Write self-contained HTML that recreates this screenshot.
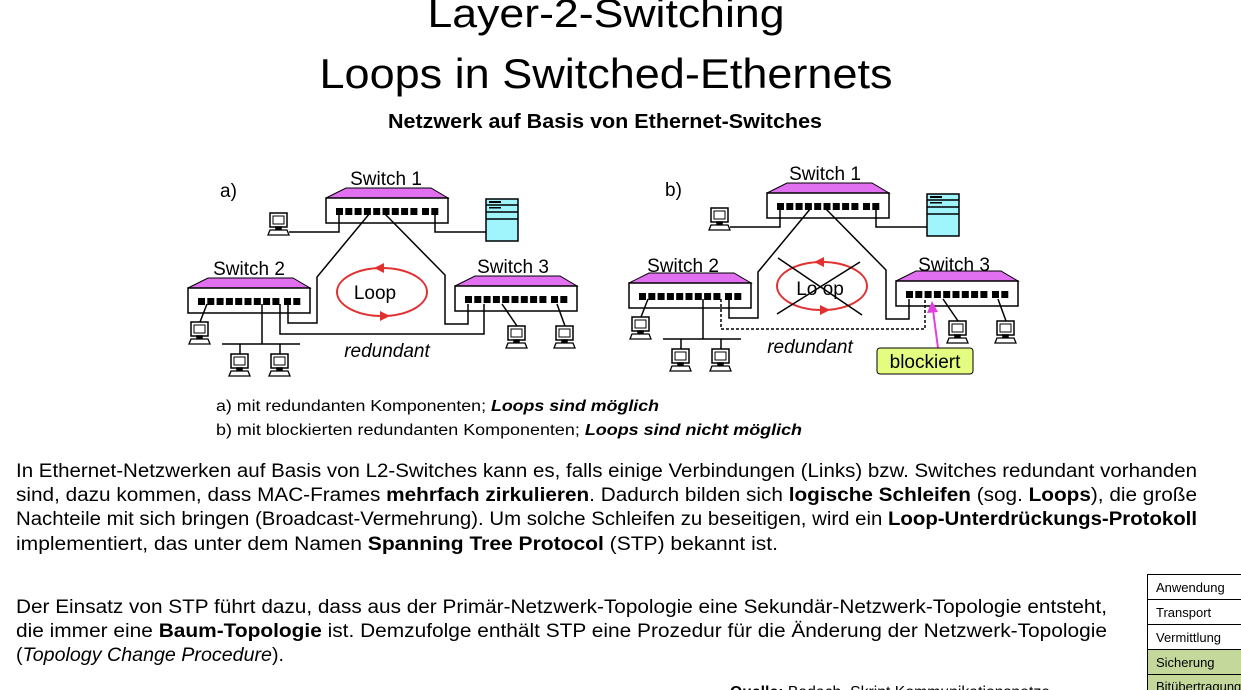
<!DOCTYPE html>
<html><head><meta charset="utf-8"><style>
html,body{margin:0;padding:0;background:#fff;}
svg{display:block;font-family:"Liberation Sans",sans-serif;}
</style></head><body>
<svg width="1241" height="690" viewBox="0 0 1241 690" xmlns="http://www.w3.org/2000/svg">
<defs>
  <g id="pc">
    <rect x="0" y="0" width="17" height="14" fill="#fff" stroke="#000" stroke-width="1.5"/>
    <rect x="3" y="3" width="11" height="8" fill="#fff" stroke="#000" stroke-width="1"/>
    <rect x="6" y="14" width="5" height="3" fill="#000"/>
    <polygon points="-2,22 19,22 17,17 0,17" fill="#fff" stroke="#000" stroke-width="1.3"/>
  </g>
  <g id="ports" fill="#000" stroke="none">
    <rect x="0" y="0" width="7" height="7"/><rect x="9.3" y="0" width="7" height="7"/><rect x="18.6" y="0" width="7" height="7"/><rect x="27.9" y="0" width="7" height="7"/><rect x="37.2" y="0" width="7" height="7"/><rect x="46.5" y="0" width="7" height="7"/><rect x="55.8" y="0" width="7" height="7"/><rect x="65.1" y="0" width="7" height="7"/><rect x="74.4" y="0" width="7" height="7"/><rect x="86" y="0" width="7" height="7"/><rect x="95.3" y="0" width="7" height="7"/>
  </g>
  <g id="sw">
    <polygon points="0,10 122,10 105,0 20,0" fill="#e070f0" stroke="#000" stroke-width="1"/>
    <rect x="0" y="10" width="122" height="25" fill="#fff" stroke="#000" stroke-width="1.5"/>
    <use href="#ports" x="10" y="20"/>
  </g>
  <g id="srv">
    <rect x="0" y="0" width="32" height="42" fill="#a0f4fc" stroke="#000" stroke-width="1.5"/>
    <line x1="0" y1="6" x2="32" y2="6" stroke="#000"/>
    <line x1="0" y1="13" x2="32" y2="13" stroke="#000"/>
    <line x1="0" y1="20" x2="32" y2="20" stroke="#000"/>
    <rect x="3" y="2" width="12" height="2" fill="#000" stroke="none"/><rect x="3" y="8" width="12" height="1.5" fill="#000" stroke="none"/>
  </g>
  <g id="net" fill="none" stroke="#000" stroke-width="1.5">
    <use href="#sw" x="326" y="188"/>
    <use href="#sw" x="188" y="278"/>
    <use href="#sw" x="455" y="276"/>
    <use href="#srv" x="486" y="199"/>
    <use href="#pc" x="270" y="213"/>
    <use href="#pc" x="191" y="322"/>
    <use href="#pc" x="231" y="354"/>
    <use href="#pc" x="271" y="354"/>
    <use href="#pc" x="508" y="326"/>
    <use href="#pc" x="556" y="326"/>
    <polyline points="339,213 339,232 289,232"/>
    <polyline points="435,213 435,232 486,232"/>
    <polyline points="370,213 317,277 317,323 288,323 288,304"/>
    <polyline points="384,213 445,275 445,324 468,324 468,304"/>
    <polyline points="207,304 200,322"/>
    <polyline points="262,304 262,344"/>
    <line x1="222" y1="344" x2="300" y2="344"/>
    <line x1="240" y1="344" x2="240" y2="354"/>
    <line x1="280" y1="344" x2="280" y2="354"/>
    <polyline points="502,304 517,326"/>
    <polyline points="557,304 565,326"/>
  </g>
</defs>

<text x="606" y="27" font-size="40" text-anchor="middle" textLength="357" lengthAdjust="spacingAndGlyphs">Layer-2-Switching</text>
<text x="606" y="88" font-size="42" text-anchor="middle" textLength="573" lengthAdjust="spacingAndGlyphs">Loops in Switched-Ethernets</text>
<text x="605" y="128" font-size="20" font-weight="bold" text-anchor="middle" textLength="434" lengthAdjust="spacingAndGlyphs">Netzwerk auf Basis von Ethernet-Switches</text>

<use href="#net"/>
<polyline points="280,304 280,334 484,334 484,304" fill="none" stroke="#000" stroke-width="1.5"/>
<ellipse cx="382" cy="292" rx="45" ry="24" fill="none" stroke="#e03030" stroke-width="2"/>
<polygon points="374,268 384,263 384,273" fill="#e03030"/>
<polygon points="390,316 380,311 380,321" fill="#e03030"/>
<text x="375" y="299" font-size="19" text-anchor="middle">Loop</text>
<text x="386" y="185" font-size="19" text-anchor="middle">Switch 1</text>
<text x="249" y="275" font-size="19" text-anchor="middle">Switch 2</text>
<text x="513" y="273" font-size="19" text-anchor="middle">Switch 3</text>
<text x="220" y="197" font-size="19">a)</text>
<text x="387" y="357" font-size="19" font-style="italic" text-anchor="middle">redundant</text>

<use href="#net" x="441" y="-5"/>
<polyline points="721,299 721,329 925,329 925,299" fill="none" stroke="#000" stroke-width="1.5" stroke-dasharray="3,2"/>
<ellipse cx="822" cy="286" rx="45" ry="24" fill="none" stroke="#e03030" stroke-width="2"/>
<polygon points="814,262 824,257 824,267" fill="#e03030"/>
<polygon points="830,310 820,305 820,315" fill="#e03030"/>
<text x="820" y="295" font-size="19" text-anchor="middle">Lo op</text>
<line x1="778" y1="258" x2="862" y2="315" stroke="#000" stroke-width="1.5"/>
<line x1="860" y1="262" x2="777" y2="314" stroke="#000" stroke-width="1.5"/>
<text x="825" y="180" font-size="19" text-anchor="middle">Switch 1</text>
<text x="683" y="272" font-size="19" text-anchor="middle">Switch 2</text>
<text x="954" y="271" font-size="19" text-anchor="middle">Switch 3</text>
<text x="665" y="196" font-size="19">b)</text>
<text x="810" y="353" font-size="19" font-style="italic" text-anchor="middle">redundant</text>
<line x1="938" y1="348" x2="933" y2="310" stroke="#e040e0" stroke-width="2"/>
<polygon points="932,301 927,313 938,312" fill="#e040e0"/>
<rect x="877" y="348" width="96" height="26" rx="3" fill="#e4fc80" stroke="#000" stroke-width="1"/>
<text x="925" y="368" font-size="19" text-anchor="middle">blockiert</text>

<text x="216" y="411" font-size="15.5" textLength="443" lengthAdjust="spacingAndGlyphs">a) mit redundanten Komponenten; <tspan font-weight="bold" font-style="italic">Loops sind möglich</tspan></text>
<text x="216" y="435" font-size="15.5" textLength="586" lengthAdjust="spacingAndGlyphs">b) mit blockierten redundanten Komponenten; <tspan font-weight="bold" font-style="italic">Loops sind nicht möglich</tspan></text>

<g font-size="19">
<text x="16" y="477" textLength="1181" lengthAdjust="spacingAndGlyphs">In Ethernet-Netzwerken auf Basis von L2-Switches kann es, falls einige Verbindungen (Links) bzw. Switches redundant vorhanden</text>
<text x="16" y="501" textLength="1181" lengthAdjust="spacingAndGlyphs">sind, dazu kommen, dass MAC-Frames <tspan font-weight="bold">mehrfach zirkulieren</tspan>. Dadurch bilden sich <tspan font-weight="bold">logische Schleifen</tspan> (sog. <tspan font-weight="bold">Loops</tspan>), die große</text>
<text x="16" y="525" textLength="1181" lengthAdjust="spacingAndGlyphs">Nachteile mit sich bringen (Broadcast-Vermehrung). Um solche Schleifen zu beseitigen, wird ein <tspan font-weight="bold">Loop-Unterdrückungs-Protokoll</tspan></text>
<text x="16" y="550" textLength="762" lengthAdjust="spacingAndGlyphs">implementiert, das unter dem Namen  <tspan font-weight="bold">Spanning Tree Protocol</tspan> (STP) bekannt ist.</text>

<text x="16" y="613" textLength="1091" lengthAdjust="spacingAndGlyphs">Der Einsatz von STP führt dazu, dass aus der Primär-Netzwerk-Topologie eine Sekundär-Netzwerk-Topologie entsteht,</text>
<text x="16" y="637" textLength="1091" lengthAdjust="spacingAndGlyphs">die immer eine <tspan font-weight="bold">Baum-Topologie</tspan> ist. Demzufolge enthält STP eine Prozedur für die Änderung der Netzwerk-Topologie</text>
<text x="16" y="661" textLength="268" lengthAdjust="spacingAndGlyphs">(<tspan font-style="italic">Topology Change Procedure</tspan>).</text>
</g>
<text x="730" y="697" font-size="16" textLength="320" lengthAdjust="spacingAndGlyphs"><tspan font-weight="bold">Quelle:</tspan> Badach, Skript Kommunikationsnetze</text>

<g stroke="#000" stroke-width="1">
<rect x="1147.5" y="574.5" width="100" height="25" fill="#fff"/>
<rect x="1147.5" y="599.5" width="100" height="25" fill="#fff"/>
<rect x="1147.5" y="624.5" width="100" height="25" fill="#fff"/>
<rect x="1147.5" y="649.5" width="100" height="25" fill="#c4d89c"/>
<rect x="1147.5" y="674.5" width="100" height="25" fill="#c4d89c"/>
</g>
<g font-size="13">
<text x="1156" y="592">Anwendung</text>
<text x="1156" y="617">Transport</text>
<text x="1156" y="642">Vermittlung</text>
<text x="1156" y="667">Sicherung</text>
<text x="1156" y="691">Bitübertragung</text>
</g>
</svg>
</body></html>
